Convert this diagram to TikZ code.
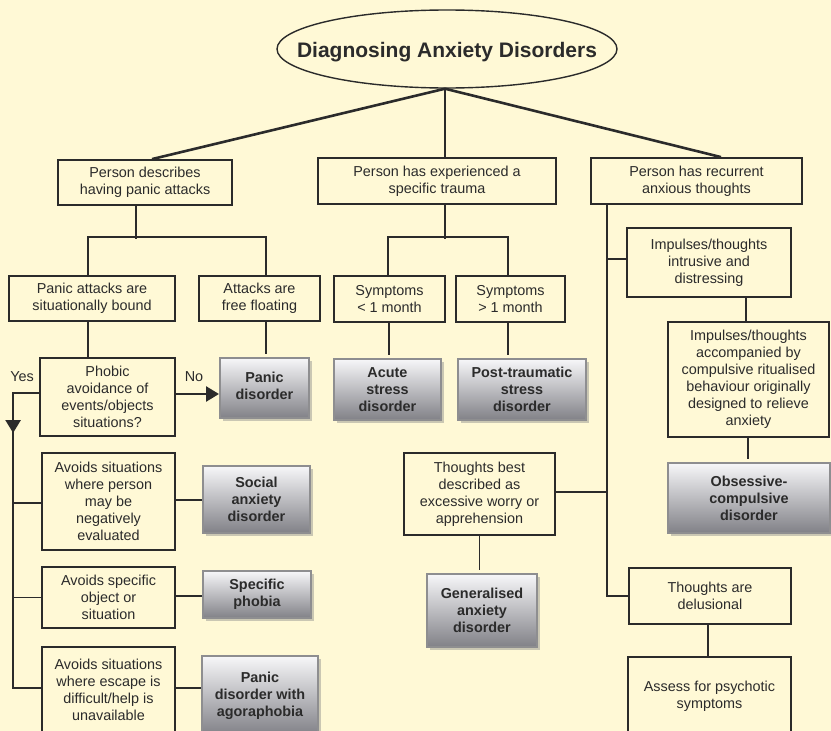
\documentclass[tikz,border=0pt]{standalone}
\usepackage{fontspec}
\setmainfont{Liberation Sans}
\usetikzlibrary{shapes.geometric,shadows,arrows.meta}
\definecolor{bg}{HTML}{FFF9D6}
\definecolor{ink}{HTML}{2B2B2B}
\definecolor{dxborder}{HTML}{8E8E90}
\definecolor{dxtop}{HTML}{F7F7F9}
\definecolor{dxbot}{HTML}{818187}
\definecolor{shadowc}{HTML}{CAC7B3}
\tikzset{
  txt/.style={text=ink, font=\fontsize{14.4}{17}\selectfont},
  qbox/.style={txt, draw=ink, line width=1.8pt, align=center, inner sep=0pt},
  dxbox/.style={txt, draw=dxborder, line width=2pt, top color=dxtop, bottom color=dxbot,
     align=center, inner sep=0pt, font=\fontsize{14.4}{17}\selectfont\bfseries,
     drop shadow={shadow xshift=3pt, shadow yshift=-3pt, fill=shadowc, opacity=1}},
  sz/.style 2 args={minimum width=#1pt, minimum height=#2pt},
  heavy/.style={draw=ink, line width=2.6pt},
  light/.style={draw=ink, line width=1.4pt},
  lbl/.style={txt, inner sep=0pt},
  tip/.style={-{Triangle[length=13pt,width=15pt]}},
}
\begin{document}
\begin{tikzpicture}[x=1pt,y=-1pt]
\useasboundingbox (0,0) rectangle (831,731);
\fill[bg] (0,0) rectangle (831,731);
\clip (0,0) rectangle (831,731);

% title
\node[ellipse, draw=ink, line width=1.4pt, sz={340}{78}, inner sep=0pt, text=ink,
      font=\fontsize{21}{24}\selectfont\bfseries] (title) at (447,49)
      {\makebox[0pt]{\raisebox{-8.5pt}[0pt][0pt]{Diagnosing Anxiety Disorders}}};

% level 1
\node[qbox, sz={174}{45}] (A) at (145,182.5) {Person describes\\having panic attacks};
\node[qbox, sz={238}{46}] (B) at (437,181) {Person has experienced a\\specific trauma};
\node[qbox, sz={211}{46}] (C) at (696.5,181) {Person has recurrent\\anxious thoughts};

% left branch
\node[qbox, sz={166}{45}] (D) at (92,298.5) {Panic attacks are\\situationally bound};
\node[qbox, sz={121}{45}] (E) at (259.5,298.5) {Attacks are\\free floating};
\node[qbox, sz={135}{78}] (F) at (107.5,397) {Phobic\\avoidance of\\events/objects\\situations?};
\node[dxbox, sz={89}{60}] (G) at (264.5,388)
  {\raisebox{7pt}{\begin{tabular}{@{}c@{}}Panic\\disorder\end{tabular}}};
\node[qbox, sz={133}{97}] (H) at (108.5,501.5) {Avoids situations\\where person\\may be\\negatively\\evaluated};
\node[qbox, sz={133}{61}] (I) at (108.5,597.5) {Avoids specific\\object or\\situation};
\node[qbox, sz={133}{86}] (J) at (108.5,690) {Avoids situations\\where escape is\\difficult/help is\\unavailable};
\node[dxbox, sz={107}{67}] (K) at (256.5,499.5) {Social\\anxiety\\disorder};
\node[dxbox, sz={108}{47}] (L) at (257,594.5) {Specific\\phobia};
\node[dxbox, sz={116}{79}] (M) at (260,695.5) {Panic\\disorder with\\agoraphobia};
\node[lbl] (yes) at (22,377) {Yes};
\node[lbl] (no) at (194,377) {No};

% middle branch
\node[qbox, sz={111}{46}] (N) at (389.5,299) {Symptoms\\< 1 month};
\node[qbox, sz={109}{46}] (O) at (510.5,299) {Symptoms\\> 1 month};
\node[dxbox, sz={107}{61}] (P) at (387.5,389.5) {Acute\\stress\\disorder};
\node[dxbox, sz={128}{61}] (Q) at (522,389.5) {Post-traumatic\\stress\\disorder};

% right branch
\node[qbox, sz={164}{69}] (S) at (709,262.5) {Impulses/thoughts\\intrusive and\\distressing};
\node[qbox, sz={161}{115}] (T) at (748.5,379.5) {Impulses/thoughts\\accompanied by\\compulsive ritualised\\behaviour originally\\designed to relieve\\anxiety};
\node[dxbox, sz={162}{70}] (U) at (749,498) {Obsessive-\\compulsive\\disorder};
\node[qbox, sz={151}{82}] (V) at (479.5,494) {Thoughts best\\described as\\excessive worry or\\apprehension};
\node[dxbox, sz={110}{73}] (W) at (482,610.5) {Generalised\\anxiety\\disorder};
\node[qbox, sz={162}{56}] (R) at (710,596) {Thoughts are\\delusional};
\node[qbox, sz={163}{78}] (X) at (709.5,696) {Assess for psychotic\\symptoms};

% connectors from title
\draw[heavy] ([xshift=-2pt]title.south) -- ([xshift=7pt]A.north);
\draw[heavy] ([xshift=-2pt]title.south) -- ([xshift=-2pt]title.south |- B.north);
\draw[heavy] ([xshift=-2pt]title.south) -- ([xshift=24.5pt]C.north);

% left branch connectors
\draw[heavy] ([xshift=-9pt]A.south) -- ++(0,33);
\draw[heavy] ([xshift=-4pt]D.north) -- ++(0,-38) -| ([xshift=6.5pt]E.north);
\draw[heavy] ([xshift=-4pt]D.south) -- ([xshift=-4pt]D.south |- F.north);
\draw[heavy] ([xshift=6.5pt]E.south) -- ([xshift=6.5pt,yshift=3pt]E.south |- G.north);
\draw[heavy, tip] ([yshift=3pt]F.east) -- ([yshift=3pt]F.east -| G.west);
\draw[heavy] ([yshift=4pt]F.west) -- ++(-26,0) coordinate (yc) |- ([yshift=2pt]J.west);
\draw[heavy, tip] (yc) -- ++(0,40);
\draw[light] ([yshift=-1.5pt]H.west -| yc) -- ([yshift=-1.5pt]H.west);
\draw[light] (I.west -| yc) -- (I.west);
\draw[light] ([yshift=1.5pt]H.east) -- ([yshift=1.5pt]H.east -| K.west);
\draw[light] ([yshift=1.5pt]I.east) -- ([yshift=1.5pt]I.east -| L.west);
\draw[light] ([yshift=2pt]J.east) -- ([yshift=2pt]J.east -| M.west);

% middle branch connectors
\draw[heavy] ([xshift=8pt]B.south) -- ++(0,34);
\draw[heavy] ([xshift=-1.5pt]N.north) -- ++(0,-38) -| ([xshift=-2.5pt]O.north);
\draw[heavy] ([xshift=-0.5pt]N.south) -- ([xshift=-0.5pt,yshift=3pt]N.south |- P.north);
\draw[heavy] ([xshift=-2.5pt]O.south) -- ([xshift=-2.5pt,yshift=3pt]O.south |- Q.north);

% right branch connectors
\coordinate (cv) at ([xshift=-89.5pt]C.south);
\draw[heavy] (cv) |- (R.west);
\draw[light] ([yshift=3.5pt]S.west -| cv) -- ([yshift=3.5pt]S.west);
\draw[light] ([xshift=37pt]S.south) -- ([xshift=37pt]S.south |- T.north);
\draw[light] ([xshift=-0.5pt]T.south) -- ([xshift=-0.5pt,yshift=3pt]T.south |- U.north);
\draw[light] ([yshift=2pt]V.east) -- ([yshift=2pt]V.east -| cv);
\draw[light] (V.south) -- ([yshift=3pt]V.south |- W.north);
\draw[light] ([xshift=-2pt]R.south) -- ([xshift=-2pt]R.south |- X.north);
\end{tikzpicture}
\end{document}
